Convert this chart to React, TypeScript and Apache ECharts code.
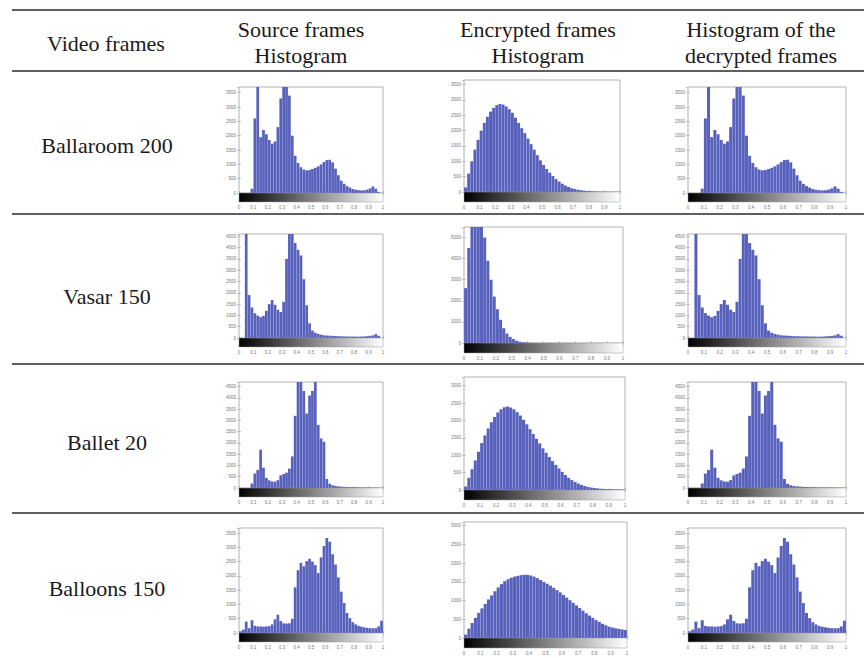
import React, { useEffect, useRef } from "react";
import * as echarts from "echarts";

// ---------- DATA ----------
const HEADER_COL1 = ["Video frames"];
const HEADER_COL2 = ["Source frames", "Histogram"];
const HEADER_COL3 = ["Encrypted frames", "Histogram"];
const HEADER_COL4 = ["Histogram of the", "decrypted frames"];
const ROW_NAMES = ["Ballaroom 200", "Vasar 150", "Ballet 20", "Balloons 150"];
const X_TICK_LABELS = ["0", "0.1", "0.2", "0.3", "0.4", "0.5", "0.6", "0.7", "0.8", "0.9", "1"];

// 50 histogram bins over [0, 1]
const SRC_BALLAROOM = [0, 0, 0, 0, 150, 2600, 3900, 1950, 2200, 2050, 1850, 1720, 1800, 2300, 3300, 3900, 3900, 3400, 2000, 1300, 1050, 900, 820, 790, 800, 840, 880, 930, 1000, 1080, 1150, 1160, 1070, 850, 620, 430, 320, 240, 190, 140, 115, 100, 90, 95, 120, 160, 230, 150, 40, 0];
const ENC_BALLAROOM = [150, 600, 1000, 1380, 1700, 2000, 2250, 2450, 2620, 2740, 2830, 2870, 2850, 2790, 2700, 2580, 2420, 2250, 2080, 1920, 1740, 1560, 1380, 1200, 1030, 880, 750, 630, 520, 420, 340, 270, 210, 165, 125, 95, 75, 58, 45, 35, 28, 22, 18, 15, 12, 10, 8, 6, 5, 4];
const SRC_VASAR = [0, 0, 4800, 1900, 1350, 1100, 990, 920, 980, 1200, 1500, 1680, 1470, 1250, 1150, 1600, 3500, 4800, 4800, 4200, 3900, 3650, 2600, 1450, 650, 330, 230, 180, 150, 120, 110, 100, 95, 85, 80, 75, 70, 70, 65, 65, 60, 60, 65, 70, 80, 95, 115, 170, 100, 0];
const ENC_VASAR = [2600, 4500, 5800, 6200, 6300, 6000, 5000, 3900, 3000, 2200, 1600, 1100, 700, 450, 290, 190, 110, 65, 40, 25, 15, 10, 6, 4, 3, 3, 2, 2, 2, 2, 1, 1, 1, 1, 1, 1, 1, 1, 1, 1, 1, 1, 1, 1, 1, 1, 1, 1, 1, 1];
const SRC_BALLET = [0, 0, 0, 0, 200, 640, 800, 1700, 900, 450, 340, 290, 280, 350, 560, 620, 680, 860, 1400, 3200, 4900, 4900, 4300, 3300, 4100, 4300, 4800, 2800, 2200, 2050, 400, 190, 120, 90, 70, 60, 50, 45, 40, 35, 30, 30, 25, 25, 20, 20, 20, 15, 15, 10];
const ENC_BALLET = [100, 350, 600, 850, 1100, 1350, 1570, 1770, 1950, 2100, 2230, 2320, 2380, 2400, 2370, 2320, 2240, 2140, 2020, 1890, 1750, 1610, 1470, 1340, 1200, 1070, 950, 830, 720, 620, 520, 430, 350, 285, 230, 185, 145, 115, 90, 72, 58, 46, 38, 32, 27, 23, 20, 18, 16, 14];
const SRC_BALLOONS = [60, 120, 400, 170, 450, 250, 230, 230, 220, 230, 240, 300, 480, 640, 420, 340, 330, 340, 500, 1600, 2200, 2460, 2340, 2520, 2600, 2500, 2380, 2100, 2650, 3050, 3330, 3200, 2760, 2400, 1950, 1450, 1050, 700, 520, 380, 300, 250, 220, 200, 180, 170, 165, 170, 230, 430];
const ENC_BALLOONS = [90, 250, 400, 540, 670, 790, 910, 1030, 1140, 1250, 1350, 1440, 1520, 1570, 1610, 1640, 1660, 1680, 1690, 1690, 1670, 1640, 1600, 1550, 1500, 1450, 1400, 1340, 1280, 1220, 1150, 1080, 1010, 940, 870, 800, 730, 660, 600, 540, 480, 430, 380, 340, 305, 280, 260, 245, 230, 215];

const SRC_DATA = [SRC_BALLAROOM, SRC_VASAR, SRC_BALLET, SRC_BALLOONS];
const ENC_DATA = [ENC_BALLAROOM, ENC_VASAR, ENC_BALLET, ENC_BALLOONS];
const SRC_YMAX = [3700, 4600, 4700, 3680];
const SRC_YSTEP = [500, 500, 500, 500];
const ENC_YMAX = [3650, 5500, 3250, 3100];
const ENC_YSTEP = [500, 1000, 500, 500];

// ---------- LAYOUT ----------
const BAR_COLOR = "#5862bd";
const ROW_LAYOUT = [
  { sTop: 87, sBase: 193, eTop: 80, eBase: 192, eRight: 620 },
  { sTop: 234, sBase: 338, eTop: 227, eBase: 343, eRight: 623 },
  { sTop: 382, sBase: 488, eTop: 377, eBase: 490, eRight: 625 },
  { sTop: 528, sBase: 633, eTop: 522, eBase: 638, eRight: 627 },
];
const S_LEFT = 239, S_RIGHT = 383;
const D_LEFT = 688, D_RIGHT = 846;
const E_LEFT = 464;
const TABLE_LINES = [10, 71, 214, 364, 513];

export default function App() {
  const ref = useRef<HTMLDivElement>(null);
  useEffect(() => {
    if (!ref.current) return;
    const chart = echarts.init(ref.current, undefined, { renderer: "svg" });
    const NB = SRC_BALLAROOM.length;
    const centers = Array.from({ length: NB }, (_, i) => (i + 0.5) / NB);

    const grids: any[] = [];
    const xAxes: any[] = [];
    const yAxes: any[] = [];
    const series: any[] = [];
    const graphics: any[] = [];
    const tick = { show: true, inside: true, length: 2, lineStyle: { color: "#999", width: 0.5 } };

    const addPanel = (left: number, right: number, top: number, base: number, vals: number[], ymax: number, ystep: number, gh: number) => {
      const p = grids.length;
      const w = right - left;
      grids.push({
        left, top, width: w, height: base - top,
        show: true, borderColor: "#a0a0a0", borderWidth: 0.8, backgroundColor: "#fff",
      });
      xAxes.push({
        type: "value", gridIndex: p, min: 0, max: 1, interval: 0.1, position: "bottom",
        axisLine: { show: false }, splitLine: { show: false }, axisTick: tick,
        axisLabel: {
          show: true, margin: gh + 3, fontSize: 4.5, color: "#777", fontFamily: "Arial",
          formatter: (v: number) => X_TICK_LABELS[Math.round(v * 10)] ?? "",
        },
      });
      xAxes.push({
        type: "value", gridIndex: p, min: 0, max: 1, interval: 0.1, position: "top",
        axisLine: { show: false }, splitLine: { show: false }, axisLabel: { show: false }, axisTick: tick,
      });
      yAxes.push({
        type: "value", gridIndex: p, min: 0, max: ymax, interval: ystep, position: "left",
        axisLine: { show: false }, splitLine: { show: false }, axisTick: tick,
        axisLabel: {
          show: true, margin: 3, fontSize: 4.5, color: "#777", fontFamily: "Arial", showMaxLabel: false,
          formatter: (v: number) => String(v),
        },
      });
      yAxes.push({
        type: "value", gridIndex: p, min: 0, max: ymax, interval: ystep, position: "right",
        axisLine: { show: false }, splitLine: { show: false }, axisLabel: { show: false }, axisTick: tick,
      });
      series.push({
        type: "bar", xAxisIndex: 2 * p, yAxisIndex: 2 * p,
        data: centers.map((c, i) => [c, vals[i]]),
        barWidth: w / NB - 0.15, itemStyle: { color: BAR_COLOR }, clip: true, silent: true,
      });
      graphics.push({
        type: "rect", shape: { x: left, y: base, width: w, height: gh },
        style: {
          fill: new echarts.graphic.LinearGradient(0, 0, 1, 0, [
            { offset: 0, color: "#000" }, { offset: 1, color: "#fff" },
          ]),
          stroke: "#999", lineWidth: 0.5,
        },
        z: 10,
      });
    };

    ROW_LAYOUT.forEach((L, r) => {
      addPanel(S_LEFT, S_RIGHT, L.sTop, L.sBase, SRC_DATA[r], SRC_YMAX[r], SRC_YSTEP[r], 9);
      addPanel(E_LEFT, L.eRight, L.eTop, L.eBase, ENC_DATA[r], ENC_YMAX[r], ENC_YSTEP[r], 10);
      addPanel(D_LEFT, D_RIGHT, L.sTop, L.sBase, SRC_DATA[r], SRC_YMAX[r], SRC_YSTEP[r], 9);
    });

    TABLE_LINES.forEach((y) => {
      graphics.push({ type: "line", shape: { x1: 12, y1: y, x2: 864, y2: y }, style: { stroke: "#2a2a2a", lineWidth: 1.4 } });
    });

    const txt = (text: string, x: number, y: number) => ({
      type: "text",
      style: { text, x, y, fill: "#1a1a1a", font: "22px Liberation Serif", align: "center", verticalAlign: "middle" },
    });
    graphics.push(txt(HEADER_COL1[0], 106, 43));
    const heads = [HEADER_COL2, HEADER_COL3, HEADER_COL4];
    const headX = [301, 538, 761];
    heads.forEach((h, i) => {
      graphics.push(txt(h[0], headX[i], 29));
      graphics.push(txt(h[1], headX[i], 55));
    });
    const rowY = [145, 296, 442, 588];
    ROW_NAMES.forEach((n, i) => graphics.push(txt(n, 107, rowY[i])));

    chart.setOption({
      animation: false,
      backgroundColor: "#fff",
      grid: grids,
      xAxis: xAxes,
      yAxis: yAxes,
      series,
      graphic: graphics,
    });
    return () => chart.dispose();
  }, []);
  return (
    <div
      ref={ref}
      style={{ position: "fixed", left: 0, top: 0, width: 864, height: 658, background: "#fff" }}
    />
  );
}
